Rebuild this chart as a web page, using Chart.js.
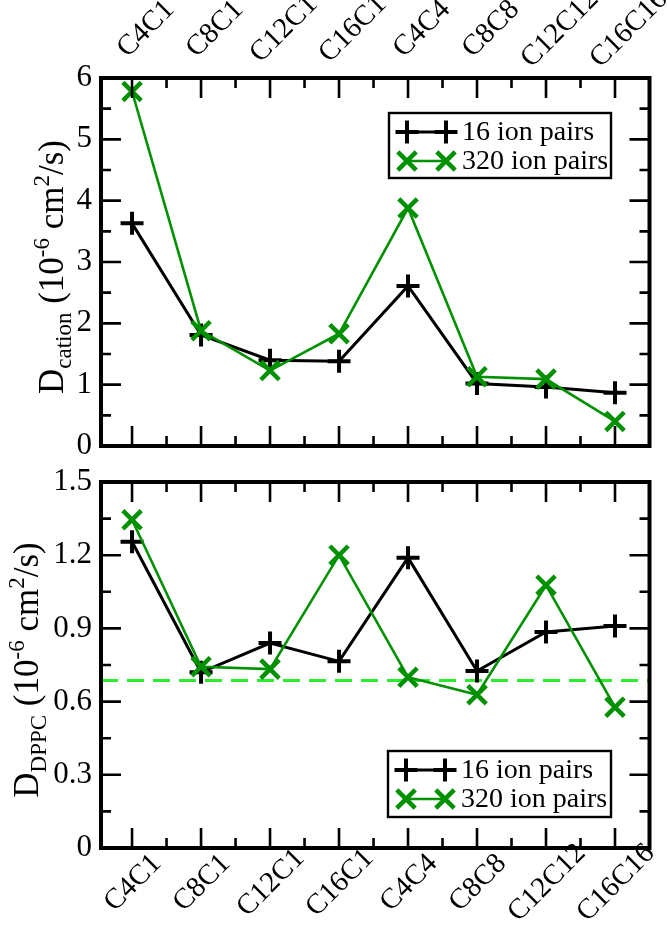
<!DOCTYPE html>
<html>
<head>
<meta charset="utf-8">
<script src="https://cdn.jsdelivr.net/npm/chart.js@4.4.1/dist/chart.umd.min.js"></script>
<style>
  body { margin: 0; background: #fff; }
  .panel { position: absolute; left: 0; width: 667px; height: 464px; }
</style>
</head>
<body>
<div class="panel" style="top:0"><canvas id="cationChart"></canvas></div>
<div class="panel" style="top:464px"><canvas id="dppcChart"></canvas></div>
<script>
const categories = ["C4C1", "C8C1", "C12C1", "C16C1", "C4C4", "C8C8", "C12C12", "C16C16"];

// D cation (10^-6 cm^2/s)
const cation16 = [3.63, 1.81, 1.40, 1.38, 2.61, 1.02, 0.96, 0.87];
const cation320 = [5.78, 1.88, 1.23, 1.83, 3.88, 1.13, 1.09, 0.40];

// D DPPC (10^-6 cm^2/s)
const dppc16 = [1.255, 0.72, 0.84, 0.765, 1.19, 0.725, 0.885, 0.91];
const dppc320 = [1.345, 0.743, 0.733, 1.20, 0.70, 0.628, 1.077, 0.577];
const dppcPure = 0.686;

const seriesLabels = ["16 ion pairs", "320 ion pairs"];
const cationTicks = [0, 1, 2, 3, 4, 5, 6];
const dppcTicks = [0, 0.3, 0.6, 0.9, 1.2, 1.5];

const BLACK = "#000";
const GREEN = "rgb(0,145,0)";
const LIGHT_GREEN = "rgb(45,235,45)";
const FONT = "'Liberation Serif', 'DejaVu Serif', serif";

Chart.defaults.font.family = FONT;
Chart.defaults.color = "#000";

function toPoints(arr) {
  return arr.map((v, i) => ({ x: i, y: v }));
}

function drawMarker(ctx, style, x, y, r, lw, color) {
  ctx.save();
  ctx.strokeStyle = color;
  ctx.lineWidth = lw;
  ctx.beginPath();
  if (style === "cross") {
    ctx.moveTo(x - r, y); ctx.lineTo(x + r, y);
    ctx.moveTo(x, y - r); ctx.lineTo(x, y + r);
  } else {
    const d = r * Math.SQRT1_2;
    ctx.moveTo(x - d, y - d); ctx.lineTo(x + d, y + d);
    ctx.moveTo(x - d, y + d); ctx.lineTo(x + d, y - d);
  }
  ctx.stroke();
  ctx.restore();
}

// frame + inward ticks, rotated category labels, legend box, y title
const decorPlugin = {
  id: "decor",
  afterDatasetsDraw(chart, args, opts) {
    const ctx = chart.ctx;
    const a = chart.chartArea;
    const xs = chart.scales.x, ys = chart.scales.y;
    ctx.save();
    ctx.strokeStyle = "#000";
    ctx.lineWidth = 2.6;
    ctx.beginPath();
    const xt = xs.ticks.map(t => t.value);
    xt.forEach((v, i) => {
      const px = xs.getPixelForValue(v);
      ctx.moveTo(px, a.bottom); ctx.lineTo(px, a.bottom - 20);
      ctx.moveTo(px, a.top); ctx.lineTo(px, a.top + 20);
      if (i < xt.length - 1) {
        const pm = xs.getPixelForValue((v + xt[i + 1]) / 2);
        ctx.moveTo(pm, a.bottom); ctx.lineTo(pm, a.bottom - 10);
        ctx.moveTo(pm, a.top); ctx.lineTo(pm, a.top + 10);
      }
    });
    const yt = ys.ticks.map(t => t.value);
    yt.forEach((v, i) => {
      const py = ys.getPixelForValue(v);
      ctx.moveTo(a.left, py); ctx.lineTo(a.left + 20, py);
      ctx.moveTo(a.right, py); ctx.lineTo(a.right - 20, py);
      if (i < yt.length - 1) {
        const pm = ys.getPixelForValue((v + yt[i + 1]) / 2);
        ctx.moveTo(a.left, pm); ctx.lineTo(a.left + 10, pm);
        ctx.moveTo(a.right, pm); ctx.lineTo(a.right - 10, pm);
      }
    });
    ctx.stroke();
    ctx.lineWidth = 4;
    ctx.strokeRect(a.left, a.top, a.right - a.left, a.bottom - a.top);

    // category labels, centred on the tick and rotated 45deg
    ctx.fillStyle = "#000";
    ctx.font = "29px " + FONT;
    ctx.textAlign = "center";
    ctx.textBaseline = "middle";
    xs.ticks.forEach(t => {
      const px = xs.getPixelForValue(t.value);
      ctx.save();
      ctx.translate(px + opts.labelDx, opts.labelY);
      ctx.rotate(-Math.PI / 4);
      ctx.fillText(categories[t.value], 0, 0);
      ctx.restore();
    });

    // legend
    const lg = opts.legend;
    ctx.lineWidth = 2.4;
    ctx.strokeRect(lg.x, lg.y, lg.w, lg.h);
    ctx.font = "28px " + FONT;
    ctx.textBaseline = "middle";
    ctx.textAlign = "left";
    chart.data.datasets.slice(0, 2).forEach((ds, i) => {
      const ry = lg.y + 19 + i * 29;
      const x1 = lg.x + 18, x2 = lg.x + 57;
      ctx.strokeStyle = ds.borderColor;
      ctx.lineWidth = ds.borderWidth;
      ctx.beginPath(); ctx.moveTo(x1, ry); ctx.lineTo(x2, ry); ctx.stroke();
      drawMarker(ctx, ds.pointStyle, x1, ry, ds.pointRadius, ds.pointBorderWidth, ds.borderColor);
      drawMarker(ctx, ds.pointStyle, x2, ry, ds.pointRadius, ds.pointBorderWidth, ds.borderColor);
      ctx.fillStyle = "#000";
      ctx.fillText(ds.label, lg.x + 73, ry + 1);
    });

    // y title
    const parts = opts.title;
    const big = "35px " + FONT, small = "23px " + FONT;
    let total = 0;
    parts.forEach(p => { ctx.font = p.s ? small : big; p.w = ctx.measureText(p.t).width; total += p.w; });
    const cy = (a.top + a.bottom) / 2 + 5;
    ctx.translate(opts.titleX, cy);
    ctx.rotate(-Math.PI / 2);
    ctx.textBaseline = "alphabetic";
    ctx.fillStyle = "#000";
    let cx = -total / 2;
    parts.forEach(p => {
      ctx.font = p.s ? small : big;
      ctx.fillText(p.t, cx, p.s === "sub" ? 8 : p.s === "sup" ? -14 : 0);
      cx += p.w;
    });
    ctx.restore();
  }
};

function makePanel(id, cfg) {
  const datasets = [
    {
      label: seriesLabels[0], data: toPoints(cfg.s16),
      borderColor: BLACK, backgroundColor: BLACK, borderWidth: 3,
      pointStyle: "cross", pointRadius: 11.5, pointBorderWidth: 4, pointHoverRadius: 11.5,
      showLine: true, clip: false, order: 2
    },
    {
      label: seriesLabels[1], data: toPoints(cfg.s320),
      borderColor: GREEN, backgroundColor: GREEN, borderWidth: 2.6,
      pointStyle: "crossRot", pointRadius: 13, pointBorderWidth: 4.5, pointHoverRadius: 13,
      showLine: true, clip: false, order: 1
    }
  ];
  if (cfg.ref !== undefined) {
    datasets.push({
      label: "ref", data: [{ x: cfg.xMin, y: cfg.ref }, { x: cfg.xMax, y: cfg.ref }],
      borderColor: LIGHT_GREEN, borderWidth: 3, borderDash: [17, 9],
      pointRadius: 0, showLine: true, order: 3
    });
  }
  return new Chart(document.getElementById(id), {
    type: "scatter",
    data: { datasets },
    options: {
      responsive: true,
      maintainAspectRatio: false,
      animation: false,
      events: [],
      layout: { padding: cfg.padding },
      plugins: {
        legend: { display: false },
        tooltip: { enabled: false },
        decor: {
          legend: cfg.legend, title: cfg.title, titleX: cfg.titleX,
          labelDx: cfg.labelDx, labelY: cfg.labelY
        }
      },
      scales: {
        x: {
          type: "linear",
          position: cfg.xPos,
          min: cfg.xMin, max: cfg.xMax,
          grid: { display: false },
          border: { display: false },
          afterBuildTicks: s => { s.ticks = categories.map((c, i) => ({ value: i })); },
          afterFit: s => { s.height = cfg.xHeight; s.paddingLeft = 0; s.paddingRight = 0; },
          ticks: { display: false, callback: v => categories[v] }
        },
        y: {
          min: cfg.yTicks[0], max: cfg.yTicks[cfg.yTicks.length - 1],
          grid: { display: false },
          border: { display: false },
          afterBuildTicks: s => { s.ticks = cfg.yTicks.map(v => ({ value: v })); },
          afterFit: s => { s.width = 101; s.paddingTop = 0; s.paddingBottom = 0; },
          ticks: {
            padding: 1,
            font: { size: 31 },
            callback: v => (v === 0 ? "0" : cfg.fmt(v))
          }
        }
      }
    },
    plugins: [decorPlugin]
  });
}

makePanel("cationChart", {
  s16: cation16, s320: cation320,
  xMin: -0.45, xMax: 7.5, xPos: "top", xHeight: 78,
  labelDx: 14, labelY: 29,
  yTicks: cationTicks, fmt: v => String(v),
  padding: { left: 0, right: 16, top: 0, bottom: 18 },
  legend: { x: 389, y: 113, w: 222, h: 65 },
  titleX: 63,
  title: [{ t: "D" }, { t: "cation", s: "sub" }, { t: " (10" }, { t: "-6", s: "sup" }, { t: " cm" }, { t: "2", s: "sup" }, { t: "/s)" }]
});

makePanel("dppcChart", {
  s16: dppc16, s320: dppc320, ref: dppcPure,
  xMin: -0.45, xMax: 7.5, xPos: "bottom", xHeight: 80,
  labelDx: 1, labelY: 419,
  yTicks: dppcTicks, fmt: v => v.toFixed(1),
  padding: { left: 0, right: 16, top: 18, bottom: 0 },
  legend: { x: 388, y: 287, w: 223, h: 66 },
  titleX: 38,
  title: [{ t: "D" }, { t: "DPPC", s: "sub" }, { t: " (10" }, { t: "-6", s: "sup" }, { t: " cm" }, { t: "2", s: "sup" }, { t: "/s)" }]
});
</script>
</body>
</html>
